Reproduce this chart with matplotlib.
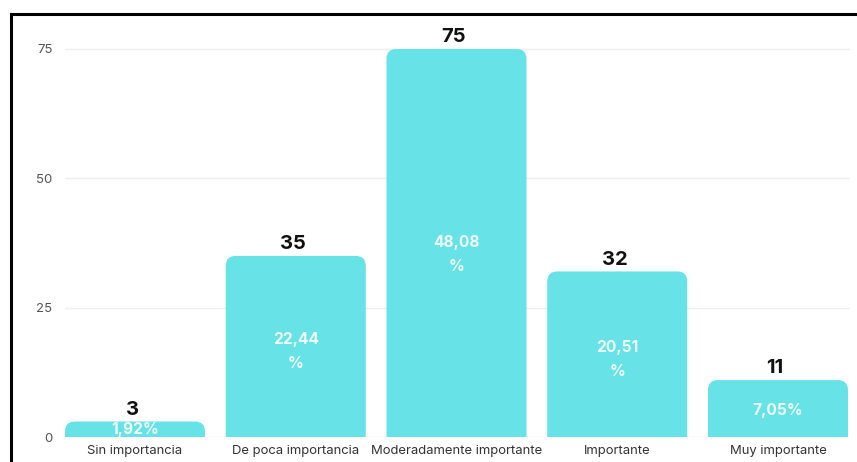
import matplotlib.pyplot as plt
import numpy as np
from matplotlib.path import Path
from matplotlib.patches import PathPatch
from matplotlib.lines import Line2D

plt.rcParams['font.family'] = ['Inter', 'DejaVu Sans']

categorias = ['Sin importancia', 'De poca importancia', 'Moderadamente importante',
              'Importante', 'Muy importante']
valores = [3, 35, 75, 32, 11]
porcentajes = ['1,92%', '22,44\n%', '48,08\n%', '20,51\n%', '7,05%']

color_barra = '#67E3E8'
ancho = 0.871

fig = plt.figure(figsize=(8.57, 4.62), dpi=100)
ax = fig.add_axes([65 / 857, 25 / 462, 785 / 857, 417 / 462])
ax.set_xlim(-ancho / 2, 4.448)
ax.set_ylim(0, 80.6)

# marco negro arriba y a la izquierda
fig.add_artist(Line2D([11 / 857, 1], [448 / 462, 448 / 462], color='black', lw=2.2,
                      transform=fig.transFigure))
fig.add_artist(Line2D([11 / 857, 11 / 857], [0, 448 / 462], color='black', lw=2.2,
                      transform=fig.transFigure))

ax.set_yticks([0, 25, 50, 75])
ax.grid(axis='y', color='#efefef', lw=1)
ax.set_axisbelow(True)
for s in ax.spines.values():
    s.set_visible(False)
ax.tick_params(axis='y', length=0, pad=9, labelsize=9.5, labelcolor='#555555')
ax.tick_params(axis='x', length=0, pad=6, labelsize=9.4, labelcolor='#333333')
ax.set_xticks(range(len(categorias)))
ax.set_xticklabels(categorias)

bars = ax.bar(range(len(categorias)), valores, width=ancho, color=color_barra)

# esquinas superiores redondeadas (radio en pixeles)
fig.canvas.draw()
px_x = ax.transData.inverted().transform((10, 0))[0] - ax.transData.inverted().transform((0, 0))[0]
px_y = ax.transData.inverted().transform((0, 10))[1] - ax.transData.inverted().transform((0, 0))[1]
for b in bars:
    x0, y0, w, h = b.get_x(), b.get_y(), b.get_width(), b.get_height()
    rx, ry = px_x, min(px_y, h)
    verts = [(x0, y0), (x0, y0 + h - ry), (x0, y0 + h), (x0 + rx, y0 + h),
             (x0 + w - rx, y0 + h), (x0 + w, y0 + h), (x0 + w, y0 + h - ry),
             (x0 + w, y0), (x0, y0)]
    codes = [Path.MOVETO, Path.LINETO, Path.CURVE3, Path.CURVE3, Path.LINETO,
             Path.CURVE3, Path.CURVE3, Path.LINETO, Path.CLOSEPOLY]
    ax.add_patch(PathPatch(Path(verts, codes), facecolor=color_barra, edgecolor='none'))
    b.set_visible(False)

for i, (v, p) in enumerate(zip(valores, porcentajes)):
    ax.annotate(str(v), (i, v), xytext=(-2, 2), textcoords='offset points',
                ha='center', va='bottom', fontsize=14.5, fontweight='bold', color='#111111')
    ax.text(i, v * 0.47, p, ha='center', va='center', fontsize=11.2, fontweight='bold',
            color='#eefcfc', linespacing=1.75)

fig.savefig('out.png', dpi=100)
